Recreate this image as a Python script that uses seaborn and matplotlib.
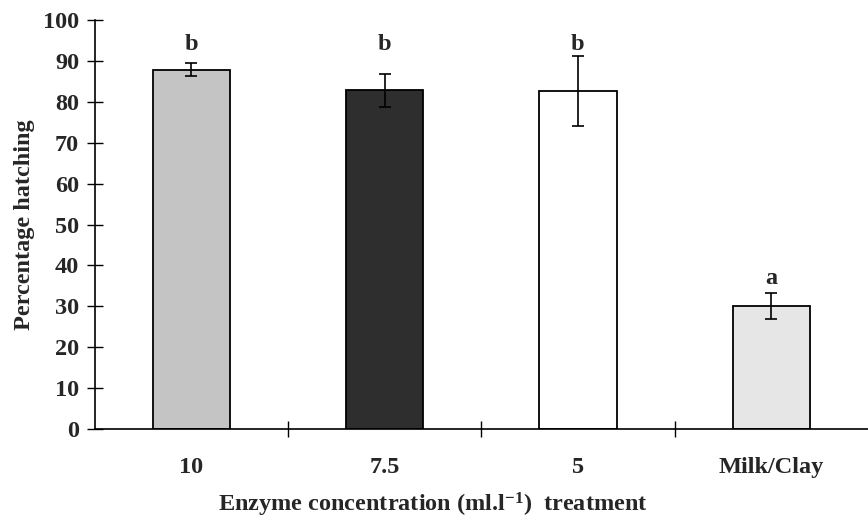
import matplotlib
matplotlib.use("Agg")
import matplotlib.pyplot as plt
import seaborn as sns
import numpy as np

# ---- data ----
categories = ["10", "7.5", "5", "Milk/Clay"]
values = [87.9, 83.0, 82.7, 30.1]
err_low = [1.6, 4.2, 8.7, 3.2]
err_high = [1.7, 3.8, 8.5, 3.2]
letters = ["b", "b", "b", "a"]
yticks = list(range(0, 101, 10))

# ---- style ----
sns.set_style("white")
plt.rcParams["font.family"] = ["Liberation Serif", "DejaVu Serif"]
plt.rcParams["font.weight"] = "bold"
plt.rcParams["mathtext.fontset"] = "custom"
plt.rcParams["mathtext.rm"] = "Liberation Serif:bold"
plt.rcParams["mathtext.bf"] = "Liberation Serif:bold"
plt.rcParams["mathtext.it"] = "Liberation Serif:bold"
plt.rcParams["mathtext.default"] = "rm"

bar_colors = ["#c4c4c4", "#2e2e2e", "#ffffff", "#e6e6e6"]
letter_y = [93.9, 93.9, 93.9, 36.9]
FS = 17.5

fig = plt.figure(figsize=(8.68, 5.2), dpi=100)
ax = fig.add_axes([0.1089, 0.175, 0.8911, 0.7865])

sns.barplot(x=categories, y=values, hue=categories, palette=bar_colors,
            legend=False, width=0.40, edgecolor="black", linewidth=1.3,
            saturation=1, ax=ax)

ax.errorbar(np.arange(len(categories)), values, yerr=[err_low, err_high],
            fmt="none", ecolor="black", elinewidth=1.2, capsize=4, capthick=1.2,
            zorder=5)

for i, (lt, ly) in enumerate(zip(letters, letter_y)):
    ax.text(i, ly, lt, ha="center", va="center", fontsize=FS, fontweight="bold")

ax.set_xlim(-0.5, 3.5)
ax.set_ylim(0, 100)
ax.set_yticks(yticks)
ax.set_yticklabels([str(t) for t in yticks], fontsize=FS, fontweight="bold")

# category labels at centers, tick marks at boundaries
ax.set_xticks(np.arange(len(categories)))
ax.set_xticklabels(categories, fontsize=FS, fontweight="bold")
ax.set_xticks([0.5, 1.5, 2.5], minor=True)
ax.tick_params(axis="x", which="major", length=0, pad=20, bottom=True)
ax.tick_params(axis="x", which="minor", length=12, width=1.0, direction="inout",
               color="black", bottom=True)
ax.tick_params(axis="y", which="major", length=12, width=1.0, direction="inout",
               color="black", pad=5, left=True)

for s in ["top", "right"]:
    ax.spines[s].set_visible(False)
for s in ["left", "bottom"]:
    ax.spines[s].set_color("black")
    ax.spines[s].set_linewidth(1.2)

ax.set_ylabel("Percentage hatching", fontsize=FS, fontweight="bold", labelpad=6)
ax.set_xlabel(r"Enzyme concentration (ml.l$^{-1}$)  treatment", fontsize=FS,
              fontweight="bold")
ax.xaxis.set_label_coords(0.4376, -0.150)

fig.savefig("out.png", dpi=100)
